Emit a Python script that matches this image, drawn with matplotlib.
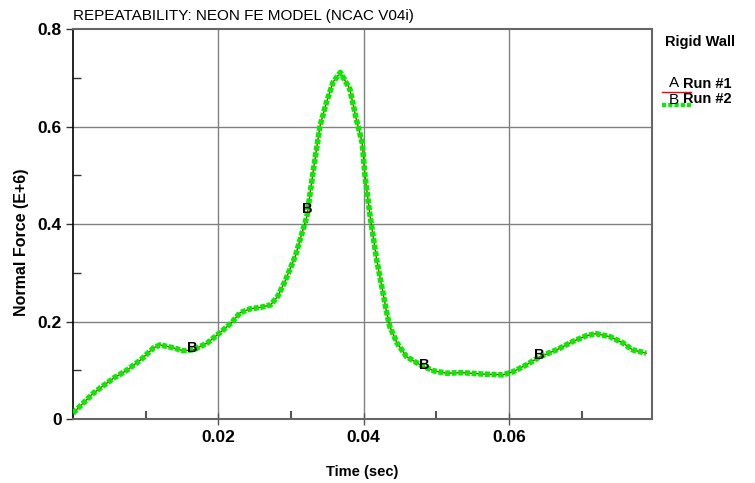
import matplotlib
matplotlib.use("Agg")
import matplotlib.pyplot as plt
import numpy as np
from matplotlib.ticker import FixedLocator, FuncFormatter

plt.rcParams['font.family'] = ['Liberation Sans', 'DejaVu Sans']

title = "REPEATABILITY: NEON FE MODEL (NCAC V04i)"
xlabel = "Time (sec)"
ylabel = "Normal Force (E+6)"
legend_title = "Rigid Wall"
series_names = ["Run #1", "Run #2"]
series_tags = ["A", "B"]

time = [0.0, 0.0028, 0.0056, 0.0074, 0.0093, 0.0111, 0.0120, 0.0138, 0.0152, 0.0166,
        0.0185, 0.0199, 0.0218, 0.0230, 0.0244, 0.0258, 0.0272, 0.0282, 0.0292, 0.0306,
        0.0322, 0.0331, 0.0340, 0.0349, 0.0358, 0.0368, 0.0381, 0.0390, 0.0398, 0.0402,
        0.0409, 0.0418, 0.0432, 0.0436, 0.0446, 0.0459, 0.0478, 0.0496, 0.0514, 0.0537,
        0.0560, 0.0592, 0.0606, 0.0624, 0.0643, 0.0666, 0.0688, 0.0707, 0.0720, 0.0739,
        0.0757, 0.0770, 0.0789]
run2 = [0.012, 0.053, 0.084, 0.100, 0.121, 0.146, 0.152, 0.146, 0.140, 0.142,
        0.156, 0.173, 0.197, 0.218, 0.226, 0.229, 0.234, 0.252, 0.283, 0.334,
        0.416, 0.512, 0.601, 0.650, 0.691, 0.711, 0.677, 0.615, 0.567, 0.498,
        0.416, 0.327, 0.217, 0.190, 0.156, 0.128, 0.111, 0.099, 0.094, 0.095,
        0.0925, 0.0905, 0.097, 0.111, 0.128, 0.142, 0.159, 0.171, 0.175, 0.169,
        0.156, 0.142, 0.135]
run1 = [0.012, 0.053, 0.084, 0.100, 0.121, 0.146, 0.152, 0.146, 0.140, 0.142,
        0.156, 0.173, 0.197, 0.218, 0.226, 0.229, 0.234, 0.252, 0.283, 0.334,
        0.416, 0.512, 0.601, 0.650, 0.691, 0.711, 0.677, 0.615, 0.567, 0.498,
        0.416, 0.327, 0.217, 0.190, 0.156, 0.128, 0.111, 0.099, 0.094, 0.095,
        0.0925, 0.0905, 0.097, 0.111, 0.128, 0.142, 0.159, 0.171, 0.175, 0.169,
        0.156, 0.142, 0.135]
tag_times = [0.0164, 0.0323, 0.0483, 0.0642]

x_major = [0.02, 0.04, 0.06]
x_minor = [0.01, 0.03, 0.05, 0.07]
y_major = [0, 0.2, 0.4, 0.6, 0.8]
y_minor = [0.1, 0.3, 0.5, 0.7]

fig = plt.figure(figsize=(7.55, 4.83), dpi=100)
ax = fig.add_axes([73/755, 1-419/483, (652-73)/755, (419-29)/483])

ax.set_xlim(0, 0.0797)
ax.set_ylim(0, 0.8)

grid_c = '#808080'
for xv in x_major:
    ax.axvline(xv, color=grid_c, lw=1, zorder=1)
for yv in y_major[1:-1]:
    ax.axhline(yv, color=grid_c, lw=1, zorder=1)

ax.plot(time, run1, color='#ff0000', lw=1, zorder=3)
ax.plot(time, run2, color='#00ee00', lw=4, linestyle=(0, (0.9, 0.3)), zorder=4,
        solid_capstyle='butt', dash_capstyle='butt')

for tt in tag_times:
    yy = np.interp(tt, time, run2)
    ax.text(tt, yy + 0.004, series_tags[1], fontsize=10.5, fontweight='bold', ha='center',
            va='center', color='black', zorder=5)

ax.xaxis.set_major_locator(FixedLocator(x_major))
ax.xaxis.set_minor_locator(FixedLocator(x_minor))
ax.yaxis.set_major_locator(FixedLocator(y_major))
ax.yaxis.set_minor_locator(FixedLocator(y_minor))
ax.yaxis.set_major_formatter(FuncFormatter(lambda v, p: '0' if v == 0 else f'{v:g}'))
ax.xaxis.set_major_formatter(FuncFormatter(lambda v, p: f'{v:g}'))

ax.tick_params(axis='x', which='major', direction='inout', length=8, width=1,
               color='#555555', labelsize=12.5, pad=4)
ax.tick_params(axis='x', which='minor', direction='in', length=6, width=1.5, color='#555555')
ax.tick_params(axis='y', which='major', direction='out', length=5, width=1,
               color='#333333', labelsize=12.5, pad=3)
ax.tick_params(axis='y', which='minor', direction='in', length=6, width=1, color='#333333')
for lab in ax.get_xticklabels() + ax.get_yticklabels():
    lab.set_fontweight('bold')

ax.spines['left'].set_color('black')
ax.spines['left'].set_linewidth(1.2)
for s in ['right', 'bottom', 'top']:
    ax.spines[s].set_color('#666666')
    ax.spines[s].set_linewidth(1.5)

ax.set_xlabel(xlabel, fontsize=10.5, fontweight='bold', labelpad=14)
ax.set_ylabel(ylabel, fontsize=11.5, fontweight='bold')
ax.yaxis.set_label_coords((29 - 73) / 579, (419 - 242) / 390)
fig.text(73/755, 1-16/483, title, fontsize=11, ha='left', va='center')

# legend
fig.text(665/755, 1-42/483, legend_title, fontsize=10.5, fontweight='bold', ha='left', va='center')
fig.text(674/755, 1-83/483, series_tags[0], fontsize=11, ha='center', va='center')
fig.text(683/755, 1-84/483, series_names[0], fontsize=10.5, fontweight='bold', ha='left', va='center')
fig.text(674/755, 1-100/483, series_tags[1], fontsize=11, ha='center', va='center')
fig.text(683/755, 1-99/483, series_names[1], fontsize=10.5, fontweight='bold', ha='left', va='center')
fig.add_artist(plt.Line2D([662/755, 691/755], [1-92/483, 1-92/483], color='#ff0000', lw=1,
                          transform=fig.transFigure))
fig.add_artist(plt.Line2D([662/755, 691/755], [1-105/483, 1-105/483], color='#00ee00', lw=3,
                          linestyle=(0, (1.0, 0.5)), transform=fig.transFigure))

fig.savefig('out.png', dpi=100)
